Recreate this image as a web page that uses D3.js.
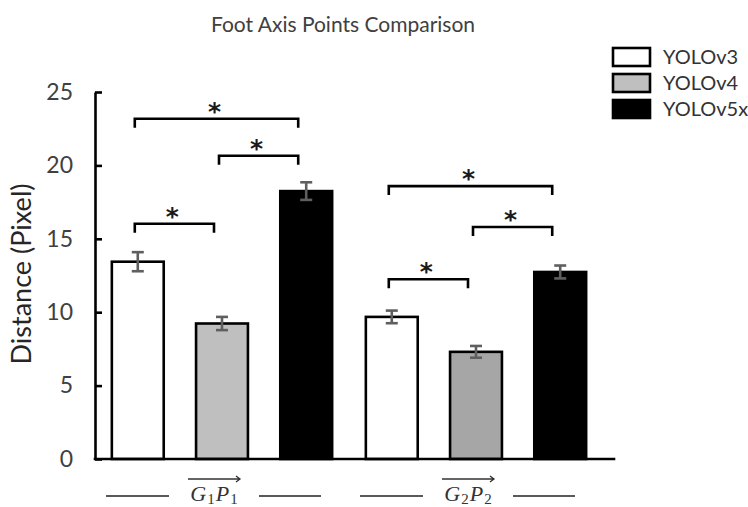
<!DOCTYPE html>
<html><head><meta charset="utf-8">
<script src="https://cdn.jsdelivr.net/npm/d3@7"></script>
<style>body{margin:0;background:#fff} svg{display:block}</style>
</head><body><svg id="c" width="748" height="507"></svg>
<script>
// ---- data ----
const groups = ["G1P1", "G2P2"];
const groupSubs = ["1", "2"];
const series = ["YOLOv3", "YOLOv4", "YOLOv5x"];
const meansG1 = [13.44, 9.23, 18.25];
const meansG2 = [9.68, 7.30, 12.74];
const errsG1 = [0.65, 0.45, 0.60];
const errsG2 = [0.43, 0.40, 0.44];
const yTicks = [0, 5, 10, 15, 20, 25];
// significance brackets: [fromSeries, toSeries, level]
const sigG1 = [[0, 1, 16.03], [1, 2, 20.66], [0, 2, 23.18]];
const sigG2 = [[0, 1, 12.24], [1, 2, 15.80], [0, 2, 18.59]];
const chartTitle = "Foot Axis Points Comparison";
const yTitle = "Distance (Pixel)";

// ---- styles ----
const means = [meansG1, meansG2], errs = [errsG1, errsG2], sigs = [sigG1, sigG2];
const fills = [["#ffffff", "#bfbfbf", "#000000"], ["#ffffff", "#a6a6a6", "#000000"]];
const legendFills = ["#ffffff", "#bfbfbf", "#000000"];

const svg = d3.select("#c");
const y = d3.scaleLinear().domain([0, 25]).range([459, 92]);
const x0 = d3.scaleBand().domain(groups).range([95, 603]);
const x1 = d3.scaleBand().domain(series).range([0, x0.bandwidth()]).paddingInner(0.384).paddingOuter(0.2);
const cx = (g, i) => x0(groups[g]) + x1(series[i]) + x1.bandwidth() / 2;

// title
svg.append("text").attr("x", 343).attr("y", 32).attr("text-anchor", "middle")
  .attr("font-family", "Lato").attr("font-size", 21).attr("fill", "#404040").text(chartTitle);

// y axis title
svg.append("text").attr("transform", "translate(31,274) rotate(-90)").attr("text-anchor", "middle")
  .attr("font-family", "Lato").attr("font-size", 27).attr("fill", "#262626").text(yTitle);

// bars
groups.forEach((g, gi) => {
  const gg = svg.append("g");
  gg.selectAll("rect").data(means[gi]).join("rect")
    .attr("x", (d, i) => x0(g) + x1(series[i]))
    .attr("y", d => y(d))
    .attr("width", x1.bandwidth())
    .attr("height", d => y(0) - y(d))
    .attr("fill", (d, i) => fills[gi][i])
    .attr("stroke", "#000").attr("stroke-width", 2.6);
  // error bars
  const eb = gg.selectAll("g.eb").data(means[gi]).join("g").attr("class", "eb")
    .attr("stroke", "#5f5f5f").attr("stroke-width", 2.6);
  eb.append("line").attr("x1", (d, i) => cx(gi, i)).attr("x2", (d, i) => cx(gi, i))
    .attr("y1", (d, i) => y(d - errs[gi][i])).attr("y2", (d, i) => y(d + errs[gi][i]));
  [-1, 1].forEach(s => {
    eb.append("line").attr("x1", (d, i) => cx(gi, i) - 6).attr("x2", (d, i) => cx(gi, i) + 6)
      .attr("y1", (d, i) => y(d + s * errs[gi][i])).attr("y2", (d, i) => y(d + s * errs[gi][i]));
  });
  // significance brackets
  sigs[gi].forEach(([a, b, lv]) => {
    const xa = cx(gi, a) - 3, xb = cx(gi, b) - 8, yy = y(lv);
    gg.append("path").attr("d", `M${xa},${yy + 9}V${yy}H${xb}V${yy + 9}`)
      .attr("fill", "none").attr("stroke", "#000").attr("stroke-width", 2.6);
    gg.append("text").attr("x", (xa + xb) / 2 - 2).attr("y", yy + 1).attr("text-anchor", "middle")
      .attr("font-family", "DejaVu Sans").attr("font-weight", "bold").attr("font-size", 25)
      .attr("fill", "#1a1a1a").text("*");
  });
});

// y axis
const ya = svg.append("g").attr("transform", "translate(95,0)")
  .call(d3.axisLeft(y).tickValues(yTicks).tickSizeInner(-7).tickSizeOuter(0).tickPadding(22));
ya.select(".domain").attr("stroke", "#000").attr("stroke-width", 2.6);
ya.selectAll(".tick line").attr("stroke", "#000").attr("stroke-width", 2.6);
ya.selectAll(".tick text").attr("font-family", "Lato").attr("font-size", 23).attr("fill", "#404040");

// x axis line
svg.append("line").attr("x1", 95).attr("x2", x0.range()[1] + 11).attr("y1", y(0)).attr("y2", y(0))
  .attr("stroke", "#000").attr("stroke-width", 2.6).attr("stroke-linecap", "square");

// category labels
groups.forEach((g, gi) => {
  const c = x0(g) + x0.bandwidth() / 2 - 8;
  const lg = svg.append("g");
  lg.append("line").attr("x1", c - 108).attr("x2", c - 45).attr("y1", 496).attr("y2", 496)
    .attr("stroke", "#595959").attr("stroke-width", 2);
  lg.append("line").attr("x1", c + 45).attr("x2", c + 107).attr("y1", 496).attr("y2", 496)
    .attr("stroke", "#595959").attr("stroke-width", 2);
  const t = lg.append("text").attr("x", c).attr("y", 501).attr("text-anchor", "middle")
    .attr("font-family", "Liberation Serif").attr("font-size", 22).attr("fill", "#333");
  t.append("tspan").attr("font-style", "italic").text("G");
  t.append("tspan").attr("font-size", 15).attr("dy", 3).attr("dx", 1).text(groupSubs[gi]);
  t.append("tspan").attr("font-style", "italic").attr("dy", -3).attr("dx", 1).text("P");
  t.append("tspan").attr("font-size", 15).attr("dy", 3).attr("dx", 1).text(groupSubs[gi]);
  lg.append("path").attr("d", `M${c - 26},479H${c + 26}M${c + 22},476L${c + 26},479L${c + 22},482`)
    .attr("fill", "none").attr("stroke", "#333").attr("stroke-width", 1.3);
});

// legend
const leg = svg.append("g");
series.forEach((s, i) => {
  const yy = 48 + i * 26;
  leg.append("rect").attr("x", 613).attr("y", yy).attr("width", 37).attr("height", 18)
    .attr("fill", legendFills[i]).attr("stroke", "#000").attr("stroke-width", 2.6);
  leg.append("text").attr("x", 663).attr("y", yy + 16).attr("font-family", "Lato").attr("font-size", 20)
    .attr("fill", "#333").text(s);
});
</script></body></html>
